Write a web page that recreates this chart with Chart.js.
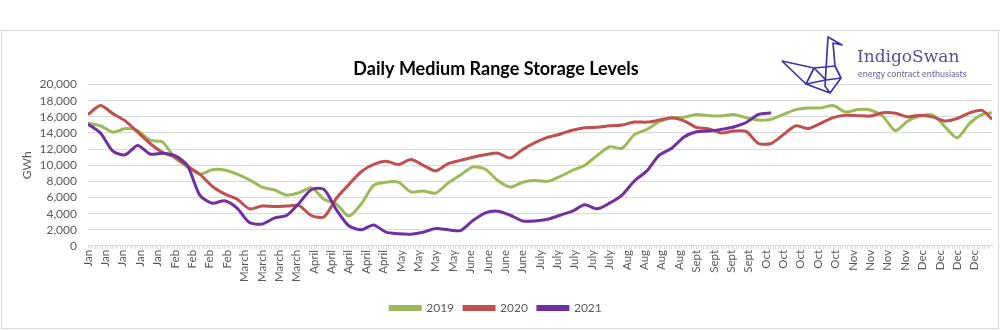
<!DOCTYPE html>
<html>
<head>
<meta charset="utf-8">
<script src="https://cdn.jsdelivr.net/npm/chart.js@4"></script>
<style>
  html, body { margin: 0; padding: 0; background: #fff; }
  #wrap { position: relative; width: 1007px; height: 330px; overflow: hidden; }
  #frame { position: absolute; left: 1px; top: 30px; width: 998px; height: 299px; box-sizing: border-box; border: 1px solid #d9d9d9; }
  #storageChart { position: absolute; left: 0; top: 0; }
  #logo { position: absolute; left: 778px; top: 34px; }
  .brand { position: absolute; left: 857px; top: 46px; font-family: 'DejaVu Serif', serif; font-size: 17px; color: #5b4b9f; white-space: nowrap; }
  .tag { position: absolute; left: 858px; top: 68px; font-family: Lato, sans-serif; font-size: 9px; color: #6b5fa5; white-space: nowrap; }
</style>
</head>
<body>
<div id="wrap">
  <div id="frame"></div>
  <canvas id="storageChart" width="1007" height="330"></canvas>
  <svg id="logo" width="72" height="64" viewBox="0 0 72 64" fill="none" stroke="#3f33a6" stroke-width="1.7" stroke-linejoin="round">
    <polyline points="4,27 28,50 52,59 63,44 57,32 55,9 64,11 50,3 47,52 52,59" />
    <polyline points="4,27 36,34 57,32" />
    <polyline points="36,34 28,50 48,46 63,44" />
    <polyline points="36,34 48,46" />
  </svg>
  <div class="brand">IndigoSwan</div>
  <div class="tag">energy contract enthusiasts</div>
</div>
<script>
// sample days (day of year)
const days = [1, 6, 11, 16, 21, 26, 31, 36, 41, 46,
  51, 56, 61, 66, 71, 76, 81, 86, 91, 96,
  101, 106, 111, 116, 121, 126, 131, 136, 141, 146,
  151, 156, 161, 166, 171, 176, 181, 186, 191, 196,
  201, 206, 211, 216, 221, 226, 231, 236, 241, 246,
  251, 256, 261, 266, 271, 276, 281, 286, 291, 296,
  301, 306, 311, 316, 321, 326, 331, 336, 341, 346,
  351, 356, 361, 365];

const gwh2019 = [15200, 14900, 14100, 14550, 14300, 13100, 12900, 10900, 9800, 8900,
  9450, 9400, 8900, 8200, 7300, 6950, 6300, 6600, 7200, 5800,
  5200, 3700, 5200, 7500, 7900, 7900, 6700, 6800, 6550, 7800,
  8800, 9800, 9500, 8100, 7300, 7900, 8100, 8000, 8600, 9350,
  10000, 11200, 12300, 12100, 13800, 14450, 15400, 15850, 15950, 16300,
  16150, 16100, 16300, 15900, 15600, 15700, 16300, 16900, 17100, 17100,
  17400, 16600, 16900, 16850, 16100, 14300, 15450, 16100, 16250, 14800,
  13400, 15200, 16300, 16500];

const gwh2020 = [16300, 17400, 16400, 15500, 14100, 12700, 11600, 11000, 9900, 8900,
  7400, 6450, 5800, 4600, 4950, 4900, 4950, 5000, 3750, 3600,
  5900, 7600, 9200, 10100, 10500, 10100, 10700, 10000, 9300, 10200,
  10600, 11000, 11300, 11500, 10900, 11950, 12800, 13450, 13850, 14350,
  14650, 14700, 14900, 15000, 15350, 15350, 15600, 15900, 15500, 14700,
  14500, 14000, 14250, 14200, 12700, 12700, 13800, 14900, 14550, 15200,
  15900, 16200, 16150, 16100, 16500, 16450, 16000, 16200, 16000, 15500,
  15800, 16500, 16800, 15700];

const gwh2021 = [15100, 14000, 11750, 11300, 12450, 11400, 11500, 11200, 10000, 6300,
  5300, 5600, 4700, 2900, 2700, 3450, 3800, 5300, 7000, 7000,
  4500, 2500, 2000, 2600, 1700, 1500, 1450, 1700, 2150, 2000,
  1900, 3150, 4100, 4300, 3800, 3100, 3100, 3300, 3800, 4300,
  5100, 4600, 5300, 6300, 8050, 9300, 11250, 12100, 13500, 14150,
  14250, 14450, 14750, 15300, 16300, 16500];

// one label every 7 days, starting 1 Jan
const tickLabels = ['Jan', 'Jan', 'Jan', 'Jan', 'Jan', 'Feb', 'Feb', 'Feb', 'Feb',
  'March', 'March', 'March', 'March', 'April', 'April', 'April', 'April', 'April',
  'May', 'May', 'May', 'May', 'June', 'June', 'June', 'June',
  'July', 'July', 'July', 'July', 'July', 'Aug', 'Aug', 'Aug', 'Aug',
  'Sept', 'Sept', 'Sept', 'Sept', 'Oct', 'Oct', 'Oct', 'Oct', 'Oct',
  'Nov', 'Nov', 'Nov', 'Nov', 'Dec', 'Dec', 'Dec', 'Dec'];

const seriesNames = ['2019', '2020', '2021'];
const seriesColors = ['#9bbb59', '#c0504d', '#7030a0'];

const toPoints = vals => vals.map((v, i) => ({ x: days[i], y: v }));
const grey = '#595959';
const gridGrey = '#d9d9d9';

const datasets = [gwh2019, gwh2020, gwh2021].map((vals, i) => ({
  label: seriesNames[i],
  data: toPoints(vals),
  borderColor: seriesColors[i],
  backgroundColor: seriesColors[i],
  borderWidth: 3,
  pointRadius: 0,
  tension: 0.25,
  order: 3 - i
}));

new Chart(document.getElementById('storageChart'), {
  type: 'line',
  data: { datasets },
  options: {
    responsive: false,
    animation: false,
    layout: { padding: { left: 0, right: 15, top: 0, bottom: 6 } },
    plugins: {
      title: {
        display: true,
        text: 'Daily Medium Range Storage Levels',
        color: '#000',
        font: { family: 'Lato', size: 18, weight: 'bold' },
        padding: { top: 58, bottom: 5 }
      },
      legend: {
        position: 'bottom',
        labels: {
          boxWidth: 30,
          boxHeight: 3,
          color: grey,
          font: { family: 'Lato', size: 12 },
          padding: 10,
          sort: (a, b) => a.datasetIndex - b.datasetIndex
        }
      },
      tooltip: { enabled: false }
    },
    scales: {
      x: {
        type: 'linear',
        min: 1,
        max: 365,
        afterBuildTicks: s => {
          const t = [];
          for (let d = 1; d <= 365; d++) t.push({ value: d });
          s.ticks = t;
        },
        afterFit: s => { s.height += 9; },
        ticks: {
          autoSkip: false,
          minRotation: 90,
          maxRotation: 90,
          color: grey,
          padding: 1,
          font: { family: 'Lato', size: 11.5 },
          callback: v => ((v - 1) % 7 === 0 ? tickLabels[(v - 1) / 7] : '')
        },
        grid: { drawOnChartArea: false, color: gridGrey, tickLength: 3 },
        border: { color: gridGrey }
      },
      y: {
        min: 0,
        max: 20000,
        afterFit: s => { s.width = 88; },
        ticks: {
          stepSize: 2000,
          autoSkip: false,
          color: grey,
          padding: 11,
          font: { family: 'Lato', size: 12 },
          callback: v => v.toLocaleString('en-US')
        },
        grid: { color: gridGrey, drawTicks: false },
        border: { display: false },
        title: {
          display: true,
          text: 'GWh',
          color: grey,
          font: { family: 'Lato', size: 12 },
          padding: { top: 20, bottom: 0 }
        }
      }
    }
  }
});
</script>
</body>
</html>
